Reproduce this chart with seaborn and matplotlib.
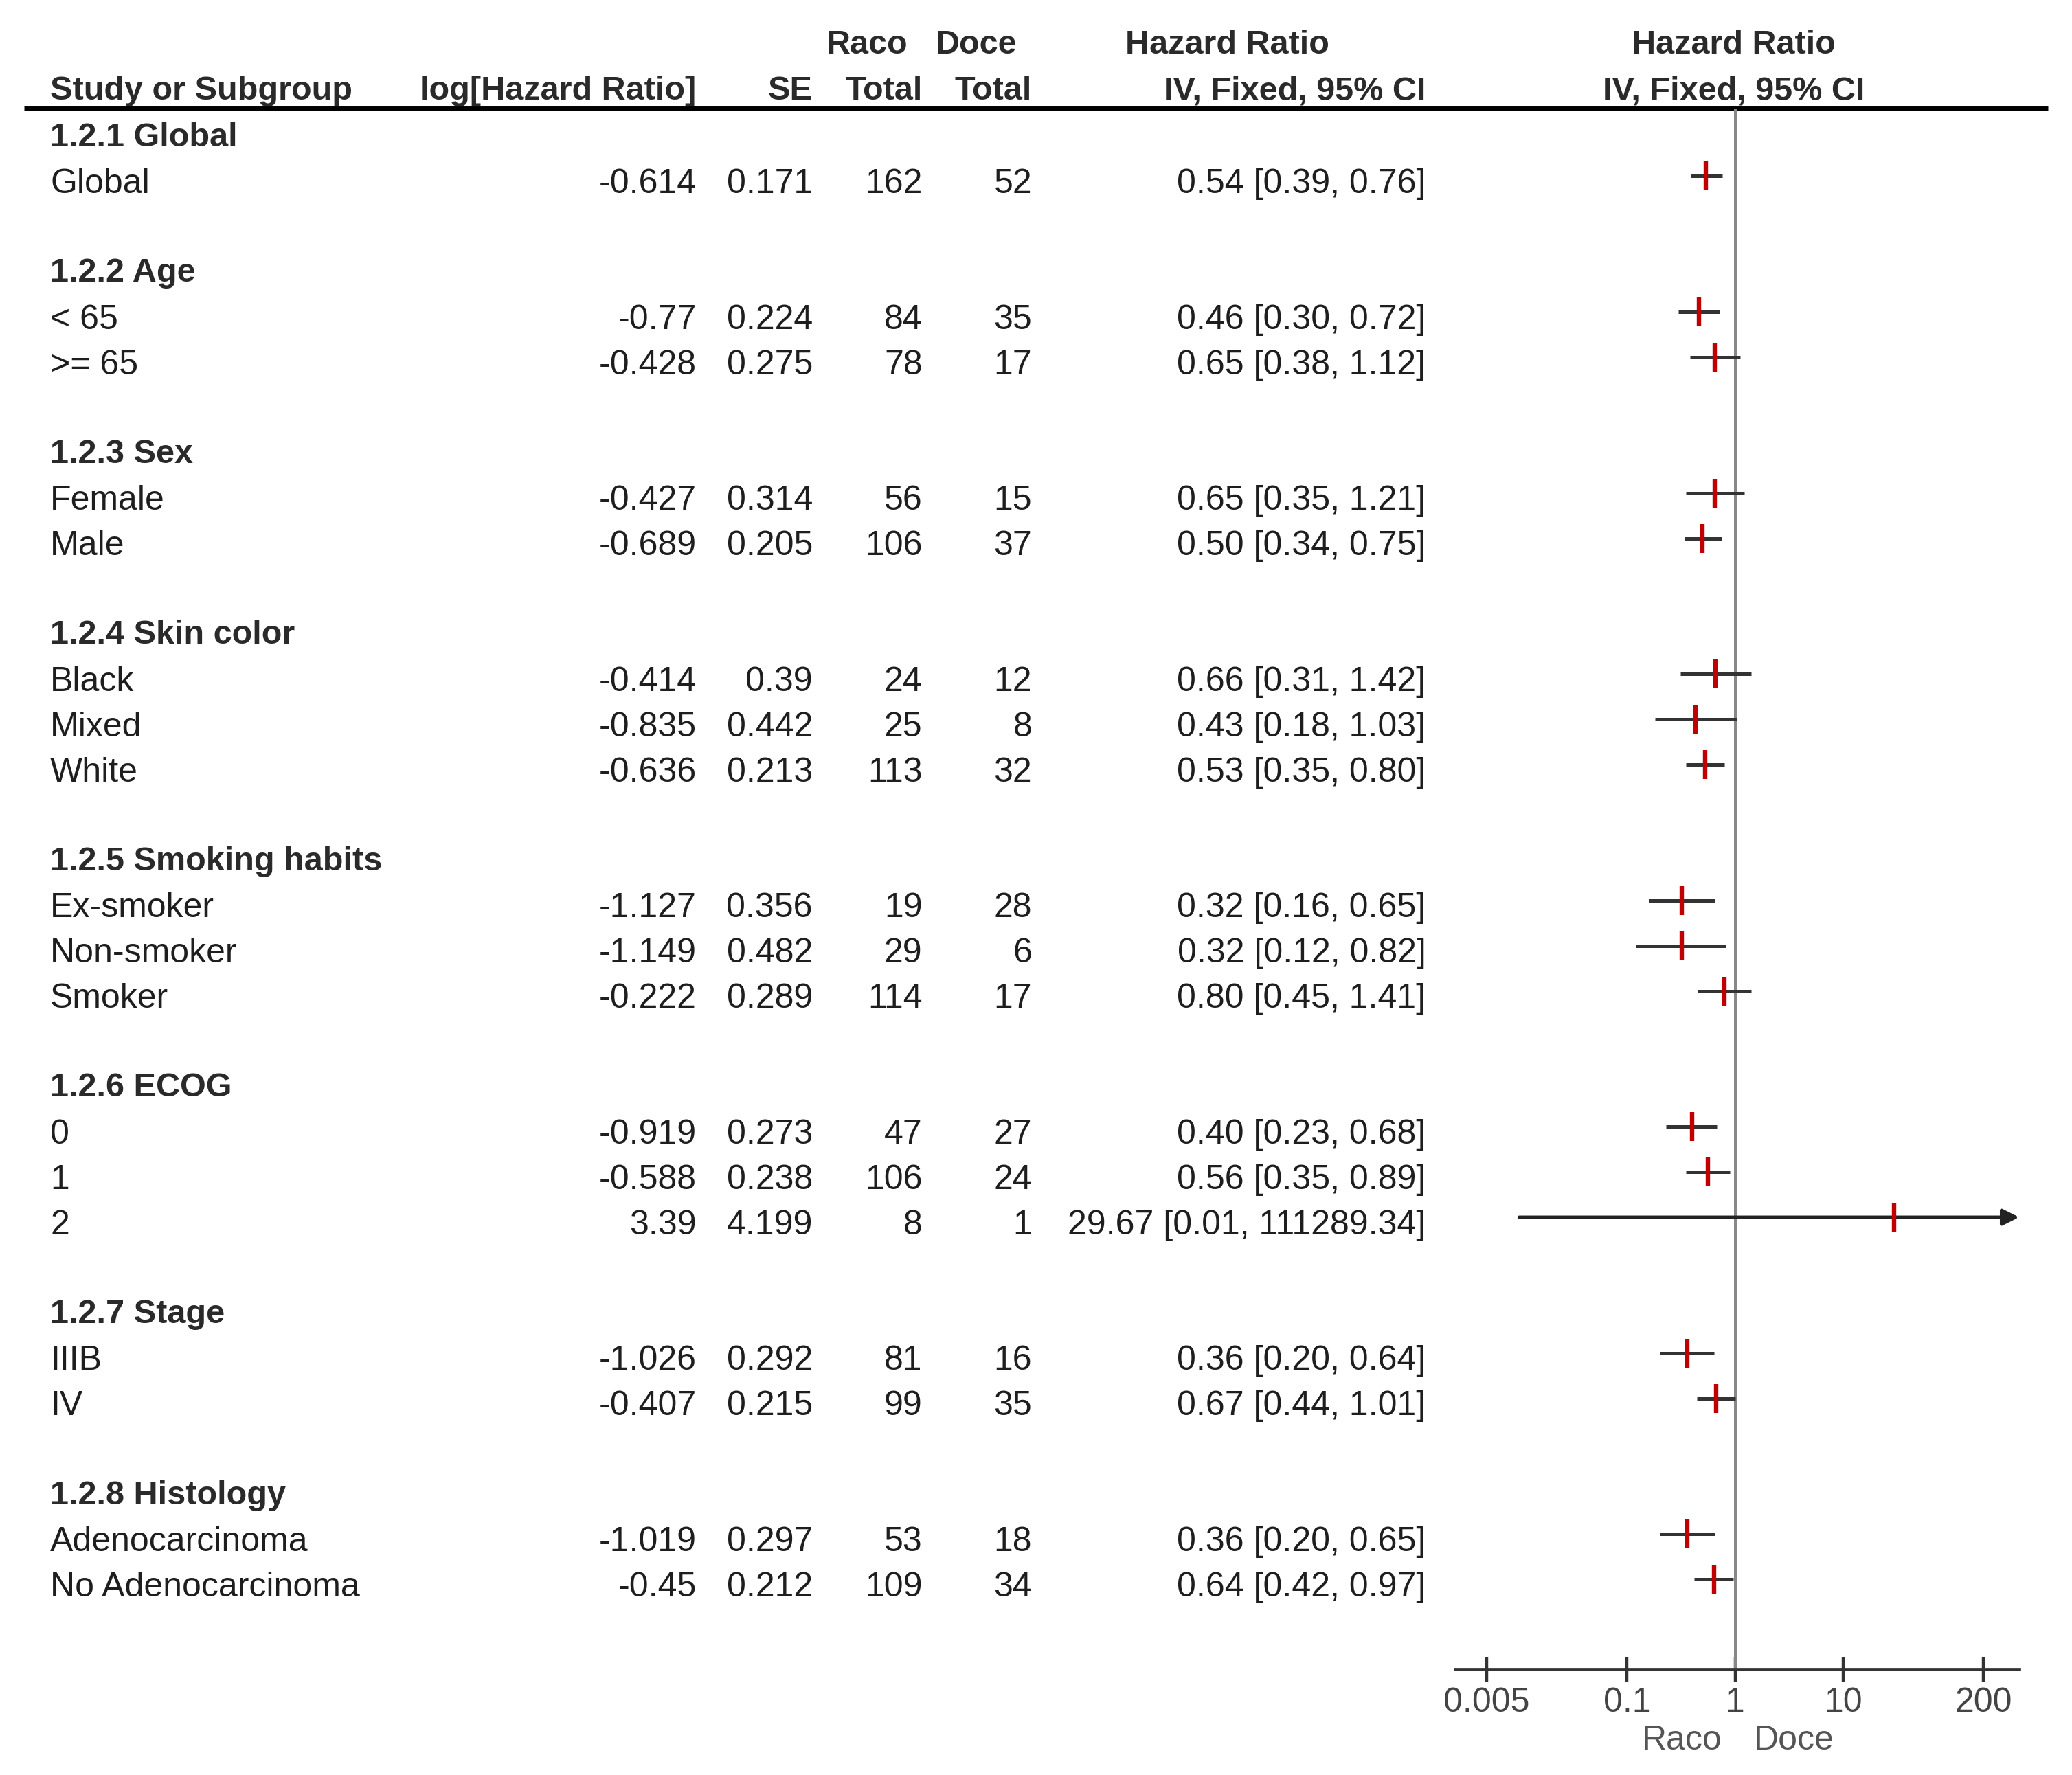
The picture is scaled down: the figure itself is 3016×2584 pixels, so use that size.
import matplotlib.pyplot as plt
import seaborn as sns
import numpy as np

# 데이터
group_titles = ['1.2.1 Global', '1.2.2 Age', '1.2.3 Sex', '1.2.4 Skin color',
                '1.2.5 Smoking habits', '1.2.6 ECOG', '1.2.7 Stage', '1.2.8 Histology']
subgroups = ['Global', '< 65', '>= 65', 'Female', 'Male', 'Black', 'Mixed', 'White',
             'Ex-smoker', 'Non-smoker', 'Smoker', '0', '1', '2', 'IIIB', 'IV',
             'Adenocarcinoma', 'No Adenocarcinoma']
group_idx = [0, 1, 1, 2, 2, 3, 3, 3, 4, 4, 4, 5, 5, 5, 6, 6, 7, 7]
log_hr = [-0.614, -0.77, -0.428, -0.427, -0.689, -0.414, -0.835, -0.636,
          -1.127, -1.149, -0.222, -0.919, -0.588, 3.39, -1.026, -0.407, -1.019, -0.45]
se = [0.171, 0.224, 0.275, 0.314, 0.205, 0.39, 0.442, 0.213,
      0.356, 0.482, 0.289, 0.273, 0.238, 4.199, 0.292, 0.215, 0.297, 0.212]
raco_total = [162, 84, 78, 56, 106, 24, 25, 113, 19, 29, 114, 47, 106, 8, 81, 99, 53, 109]
doce_total = [52, 35, 17, 15, 37, 12, 8, 32, 28, 6, 17, 27, 24, 1, 16, 35, 18, 34]
hr = [0.54, 0.46, 0.65, 0.65, 0.50, 0.66, 0.43, 0.53, 0.32, 0.32, 0.80,
      0.40, 0.56, 29.67, 0.36, 0.67, 0.36, 0.64]
ci_low = [0.39, 0.30, 0.38, 0.35, 0.34, 0.31, 0.18, 0.35, 0.16, 0.12, 0.45,
          0.23, 0.35, 0.01, 0.20, 0.44, 0.20, 0.42]
ci_high = [0.76, 0.72, 1.12, 1.21, 0.75, 1.42, 1.03, 0.80, 0.65, 0.82, 1.41,
           0.68, 0.89, 111289.34, 0.64, 1.01, 0.65, 0.97]
tick_vals = [0.005, 0.1, 1, 10, 200]
tick_labels = ['0.005', '0.1', '1', '10', '200']

sns.set_theme(style='white')
plt.rcParams['font.family'] = ['Liberation Sans', 'DejaVu Sans']

W, H = 1568, 1343            # 좌표계 (축소 그림 픽셀 기준)
fs = 18
tc = '#1e1e1e'

def ypos(i):
    return 99 + 34.25 * i

# 행 배치: 제목, 하위그룹, 빈줄
rows = []
i = 0
for g, title in enumerate(group_titles):
    rows.append(('head', title, None, i))
    i += 1
    for k in range(len(subgroups)):
        if group_idx[k] == g:
            rows.append(('row', subgroups[k], k, i))
            i += 1
    i += 1

fig = plt.figure(figsize=(15.08, 12.92), dpi=200)
ax_t = fig.add_axes([0, 0, 1, 1])
ax_t.set_xlim(0, W)
ax_t.set_ylim(H, 0)
ax_t.axis('off')

# 헤더
hd = dict(fontsize=17.5, fontweight='bold', color='#2a2a2a', va='center')
ax_t.text(656, 34, 'Raco', ha='center', **hd)
ax_t.text(739, 34, 'Doce', ha='center', **hd)
ax_t.text(929, 34, 'Hazard Ratio', ha='center', **hd)
ax_t.text(1312, 34, 'Hazard Ratio', ha='center', **hd)
ax_t.text(38, 69, 'Study or Subgroup', ha='left', **hd)
ax_t.text(527, 69, 'log[Hazard Ratio]', ha='right', **hd)
ax_t.text(615, 69, 'SE', ha='right', **hd)
ax_t.text(698, 69, 'Total', ha='right', **hd)
ax_t.text(781, 69, 'Total', ha='right', **hd)
ax_t.text(1079, 69, 'IV, Fixed, 95% CI', ha='right', **hd)
ax_t.text(1312, 69, 'IV, Fixed, 95% CI', ha='center', **hd)
ax_t.plot([18, 1550], [82, 82], color='black', lw=2.5, solid_capstyle='butt')

# 표 내용
for kind, txt, k, i in rows:
    y = ypos(i) + 6
    if kind == 'head':
        ax_t.text(38, y - 1, txt, ha='left', va='center', fontsize=17.5, fontweight='bold', color='#2a2a2a')
        continue
    ax_t.text(38, y, txt, ha='left', va='center', fontsize=fs, color=tc)
    ax_t.text(527, y, str(log_hr[k]), ha='right', va='center', fontsize=fs, color=tc)
    ax_t.text(615, y, str(se[k]), ha='right', va='center', fontsize=fs, color=tc)
    ax_t.text(698, y, str(raco_total[k]), ha='right', va='center', fontsize=fs, color=tc)
    ax_t.text(781, y, str(doce_total[k]), ha='right', va='center', fontsize=fs, color=tc)
    ax_t.text(1079, y, f'{hr[k]:.2f} [{ci_low[k]:.2f}, {ci_high[k]:.2f}]',
              ha='right', va='center', fontsize=fs, color=tc)

ax_t.text(1303, 1317, 'Raco', ha='right', va='center', fontsize=fs, color='#555555')
ax_t.text(1327, 1317, 'Doce', ha='left', va='center', fontsize=fs, color='#555555')

# 포레스트 플롯
ax_f = fig.add_axes([1101 / W, 1 - 1263 / H, (1528 - 1101) / W, (1263 - 82) / H])
ax_f.patch.set_alpha(0)
ax_f.set_xscale('log')
xmin, xmax = 0.00254, 428
ax_f.set_xlim(xmin, xmax)
ax_f.set_ylim(1263, 82)

ys = np.array([ypos(i) for kind, txt, k, i in rows if kind == 'row'])
lo = np.clip(ci_low, xmin, xmax)
hi = np.clip(ci_high, xmin, xmax)
ax_f.axvline(1, color='#888888', lw=1.8, zorder=1)
for y, l, h, h0 in zip(ys, lo, hi, ci_high):
    if h0 > xmax:
        ax_f.annotate('', xy=(xmax, y), xytext=(l, y), zorder=2,
                      arrowprops=dict(arrowstyle='-|>', color='#222222', lw=1.8,
                                      mutation_scale=18, shrinkA=0, shrinkB=0))
    else:
        ax_f.hlines(y, l, h, color='#333333', lw=1.8, zorder=2)
sns.scatterplot(x=hr, y=ys, marker='|', s=230, color='#c00000', edgecolor='#c00000',
                linewidth=2.3, ax=ax_f, legend=False, zorder=4)

for s in ['left', 'right', 'top']:
    ax_f.spines[s].set_visible(False)
ax_f.spines['bottom'].set_color('#333333')
ax_f.spines['bottom'].set_linewidth(1.7)
ax_f.set_yticks([])
ax_f.set_xticks(tick_vals)
ax_f.set_xticklabels(tick_labels)
ax_f.minorticks_off()
ax_f.tick_params(axis='x', direction='inout', length=13, width=1.6, color='#333333',
                 labelsize=fs, labelcolor='#444444', pad=3, bottom=True)
ax_f.set_xlabel('')
ax_f.set_ylabel('')

plt.savefig('out.png', dpi=200)
